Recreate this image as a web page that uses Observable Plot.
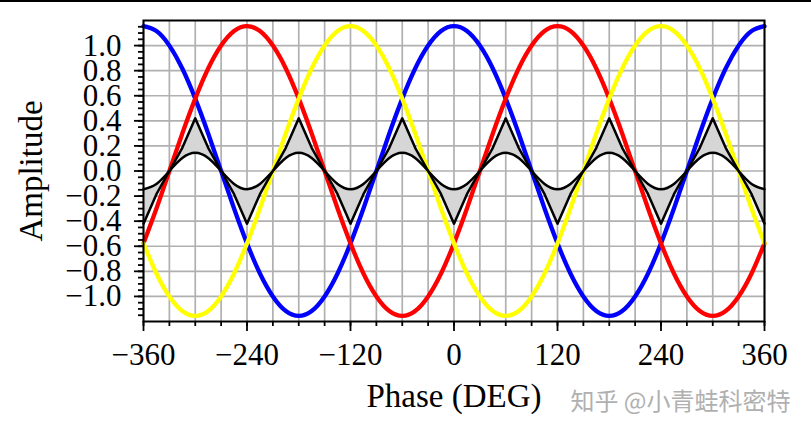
<!DOCTYPE html>
<html>
<head>
<meta charset="utf-8">
<script src="https://cdn.jsdelivr.net/npm/d3@7"></script>
<script src="https://cdn.jsdelivr.net/npm/@observablehq/plot@0.6"></script>
<style>
  html, body { margin: 0; padding: 0; background: #fff; }
  #wrap { position: relative; width: 811px; height: 435px; overflow: hidden; }
  #topline { position: absolute; left: 0; top: 0; width: 811px; height: 2px; background: #000; }
</style>
</head>
<body>
<div id="wrap"><div id="topline"></div><div id="chart"></div></div>
<script>
// Phase angle samples (degrees)
const phase = [-360,-345,-330,-315,-300,-285,-270,-255,-240,-225,-210,-195,-180,-165,-150,-135,-120,-105,-90,-75,-60,-45,-30,-15,
  0,15,30,45,60,75,90,105,120,135,150,165,180,195,210,225,240,255,270,285,300,315,330,345,360];

// Phase A (blue)
const phaseA = [1.155,1.116,1.0,0.817,0.577,0.299,0,-0.299,-0.577,-0.817,-1.0,-1.116,-1.155,-1.116,-1.0,-0.817,-0.577,-0.299,0,0.299,0.577,0.817,1.0,1.116,
  1.155,1.116,1.0,0.817,0.577,0.299,0,-0.299,-0.577,-0.817,-1.0,-1.116,-1.155,-1.116,-1.0,-0.817,-0.577,-0.299,0,0.299,0.577,0.817,1.0,1.116,1.155];

// Phase B (red)
const phaseB = [-0.577,-0.299,0,0.299,0.577,0.817,1.0,1.116,1.155,1.116,1.0,0.817,0.577,0.299,0,-0.299,-0.577,-0.817,-1.0,-1.116,-1.155,-1.116,-1.0,-0.817,
  -0.577,-0.299,0,0.299,0.577,0.817,1.0,1.116,1.155,1.116,1.0,0.817,0.577,0.299,0,-0.299,-0.577,-0.817,-1.0,-1.116,-1.155,-1.116,-1.0,-0.817,-0.577];

// Phase C (yellow)
const phaseC = [-0.577,-0.817,-1.0,-1.116,-1.155,-1.116,-1.0,-0.817,-0.577,-0.299,0,0.299,0.577,0.817,1.0,1.116,1.155,1.116,1.0,0.817,0.577,0.299,0,-0.299,
  -0.577,-0.817,-1.0,-1.116,-1.155,-1.116,-1.0,-0.817,-0.577,-0.299,0,0.299,0.577,0.817,1.0,1.116,1.155,1.116,1.0,0.817,0.577,0.299,0,-0.299,-0.577];

// Zero-sequence, triangular (black, cusped)
const zeroTri = [-0.42,-0.185,0,0.185,0.42,0.185,0,-0.185,-0.42,-0.185,0,0.185,0.42,0.185,0,-0.185,-0.42,-0.185,0,0.185,0.42,0.185,0,-0.185,
  -0.42,-0.185,0,0.185,0.42,0.185,0,-0.185,-0.42,-0.185,0,0.185,0.42,0.185,0,-0.185,-0.42,-0.185,0,0.185,0.42,0.185,0,-0.185,-0.42];

// Zero-sequence, third harmonic (black, smooth)
const zeroSin = [-0.145,-0.103,0,0.103,0.145,0.103,0,-0.103,-0.145,-0.103,0,0.103,0.145,0.103,0,-0.103,-0.145,-0.103,0,0.103,0.145,0.103,0,-0.103,
  -0.145,-0.103,0,0.103,0.145,0.103,0,-0.103,-0.145,-0.103,0,0.103,0.145,0.103,0,-0.103,-0.145,-0.103,0,0.103,0.145,0.103,0,-0.103,-0.145];

// Ticks
const xMajorTicks = [-360,-240,-120,0,120,240,360];
const xMajorLabels = ["\u2212360","\u2212240","\u2212120","0","120","240","360"];
const xMinorTicks = [-360,-330,-300,-270,-240,-210,-180,-150,-120,-90,-60,-30,0,30,60,90,120,150,180,210,240,270,300,330,360];
const yMajorTicks = [-1.0,-0.8,-0.6,-0.4,-0.2,0,0.2,0.4,0.6,0.8,1.0];
const yMajorLabels = ["\u22121.0","\u22120.8","\u22120.6","\u22120.4","\u22120.2","0.0","0.2","0.4","0.6","0.8","1.0"];
const yMinorTicks = [-1.15,-1.1,-1.05,-1.0,-0.95,-0.9,-0.85,-0.8,-0.75,-0.7,-0.65,-0.6,-0.55,-0.5,-0.45,-0.4,-0.35,-0.3,-0.25,-0.2,-0.15,-0.1,-0.05,0,
  0.05,0.1,0.15,0.2,0.25,0.3,0.35,0.4,0.45,0.5,0.55,0.6,0.65,0.7,0.75,0.8,0.85,0.9,0.95,1.0,1.05,1.1,1.15];

const xLabel = "Phase (DEG)";
const yLabel = "Amplitude";
const watermark = "知乎 @小青蛙科密特";

const rows = phase.map((x, i) => ({x, a: phaseA[i], b: phaseB[i], c: phaseC[i], tri: zeroTri[i], sin: zeroSin[i]}));

const xFmt = new Map(xMajorTicks.map((t, i) => [t, xMajorLabels[i]]));
const yFmt = new Map(yMajorTicks.map((t, i) => [t, yMajorLabels[i]]));

const serif = "'Liberation Serif', 'Times New Roman', serif";

const chart = Plot.plot({
  width: 811,
  height: 435,
  marginLeft: 143,
  marginRight: 47,
  marginTop: 20,
  marginBottom: 114,
  style: {fontFamily: serif, fontSize: "31px", background: "white", overflow: "visible"},
  x: {domain: [-360, 360]},
  y: {domain: [-1.2, 1.2]},
  marks: [
    Plot.gridX(xMinorTicks, {stroke: "#b0b0b0", strokeOpacity: 1, strokeWidth: 1.7}),
    Plot.gridY(yMajorTicks, {stroke: "#b0b0b0", strokeOpacity: 1, strokeWidth: 1.7}),
    Plot.areaY(rows, {x: "x", y1: "tri", y2: "sin", fill: "#d6d6d6"}),
    Plot.lineY(rows, {x: "x", y: "a", stroke: "#0000ff", strokeWidth: 4.3, curve: "natural"}),
    Plot.lineY(rows, {x: "x", y: "b", stroke: "#ff0000", strokeWidth: 4.3, curve: "natural"}),
    Plot.lineY(rows, {x: "x", y: "c", stroke: "#ffff00", strokeWidth: 4.3, curve: "natural"}),
    Plot.lineY(rows, {x: "x", y: "tri", stroke: "#000", strokeWidth: 2.5, curve: "linear"}),
    Plot.lineY(rows, {x: "x", y: "sin", stroke: "#000", strokeWidth: 2.5, curve: "natural"}),
    Plot.frame({stroke: "#000", strokeWidth: 2}),
    Plot.axisX(xMinorTicks, {tickSize: 5, strokeWidth: 1.8, tickFormat: () => "", label: null}),
    Plot.axisX(xMajorTicks, {tickSize: 10, tickPadding: 11, strokeWidth: 1.8, fontSize: 31, fill: "#000",
      tickFormat: d => xFmt.get(d), label: null}),
    Plot.axisY(yMinorTicks, {tickSize: 5, strokeWidth: 1.8, tickFormat: () => "", label: null}),
    Plot.axisY(yMajorTicks, {tickSize: 9, tickPadding: 13, strokeWidth: 1.8, fontSize: 31, fill: "#000",
      tickFormat: d => yFmt.get(Math.round(d * 10) / 10), label: null}),
    Plot.text([xLabel], {text: d => d, frameAnchor: "bottom", textAnchor: "middle", lineAnchor: "middle",
      dy: 75, fontSize: 33, fill: "#000"}),
    Plot.text([yLabel], {text: d => d, frameAnchor: "left", textAnchor: "middle", lineAnchor: "middle",
      rotate: -90, dx: -112, fontSize: 33, fill: "#000"}),
    Plot.text([watermark], {text: d => d, frameAnchor: "bottom-right", textAnchor: "end", lineAnchor: "middle",
      dx: 26, dy: 81, fontSize: 24, fill: "#b0b0b0", fontFamily: "'Noto Sans CJK SC', sans-serif"})
  ]
});
document.getElementById("chart").appendChild(chart);
</script>
</body>
</html>
